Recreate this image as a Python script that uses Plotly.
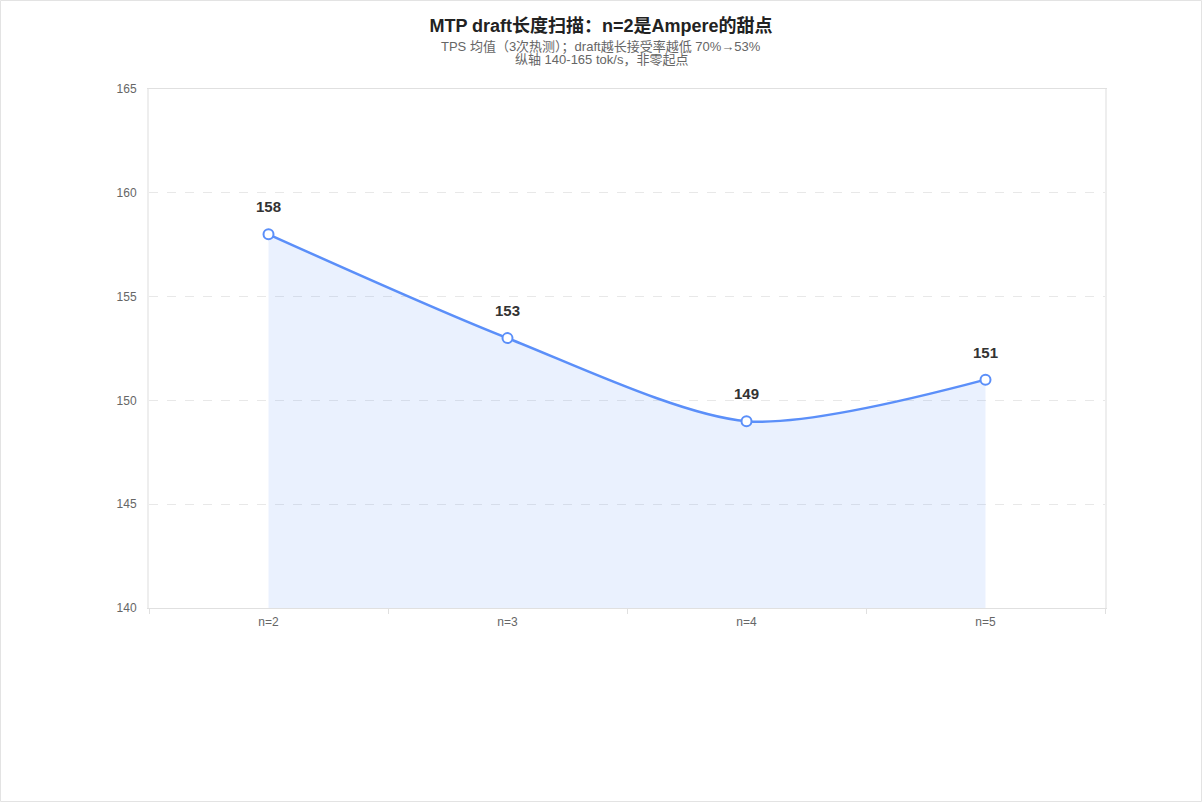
import plotly.graph_objects as go

categories = ["n=2", "n=3", "n=4", "n=5"]
tps = [158, 153, 149, 151]
y_ticks = [140, 145, 150, 155, 160, 165]

W, H = 1202, 802
ml, mr, mt, mb = 149, 97, 89, 194
pw, ph = W - ml - mr, H - mt - mb
cx = (W / 2 - ml) / pw  # figure centre in paper coords

font = "Liberation Sans, Arial, Noto Sans CJK SC, sans-serif"

fig = go.Figure()
fig.add_trace(go.Scatter(
    x=categories, y=tps, mode="lines+markers",
    line=dict(color="#5B8FF9", width=2.5, shape="spline", smoothing=0.8),
    marker=dict(size=10, color="white", line=dict(color="#5B8FF9", width=2)),
    fill="tozeroy", fillcolor="rgba(91,143,249,0.13)",
    hoverinfo="x+y", showlegend=False,
))

# value labels above each point
labels = [dict(x=c, y=v, text="<b>%d</b>" % v, showarrow=False,
               yanchor="bottom", yshift=17,
               font=dict(size=15, color="#333333"))
          for c, v in zip(categories, tps)]

subtitle = [
    dict(text="TPS 均值（3次热测）；draft越长接受率越低 70%→53%",
         xref="paper", yref="paper", x=cx, y=1 + (mt - 47) / ph,
         xanchor="center", yanchor="middle", showarrow=False,
         font=dict(size=13, color="#666666")),
    dict(text="纵轴 140-165 tok/s，非零起点",
         xref="paper", yref="paper", x=cx, y=1 + (mt - 60) / ph,
         xanchor="center", yanchor="middle", showarrow=False,
         font=dict(size=13, color="#666666")),
]

fig.update_layout(
    width=W, height=H,
    margin=dict(l=ml, r=mr, t=mt, b=mb),
    paper_bgcolor="white", plot_bgcolor="white",
    font=dict(family=font),
    title=dict(text="<b>MTP draft长度扫描：n=2是Ampere的甜点</b>",
               x=0.5, xanchor="center", y=1 - 26 / H, yanchor="middle",
               font=dict(size=18, color="#222222")),
    annotations=labels + subtitle,
    shapes=[dict(type="rect", xref="paper", yref="paper",
                 x0=-ml / pw + 0.5 / pw, x1=1 + (mr - 0.5) / pw,
                 y0=-(mb - 0.5) / ph, y1=1 + (mt - 0.5) / ph,
                 line=dict(color="#e3e3e3", width=1), layer="below")],
)

fig.update_xaxes(
    type="category", range=[-0.5, len(categories) - 0.5],
    tickson="boundaries", ticks="outside", ticklen=5,
    tickcolor="#e0e0e0", showgrid=False,
    showline=True, linecolor="#e0e0e0", linewidth=1, mirror=True,
    tickfont=dict(size=12, color="#666666"), ticklabelstandoff=3,
)
fig.update_yaxes(
    range=[140, 165], tickvals=y_ticks, ticks="", showgrid=True,
    gridcolor="#e8e8e8", griddash="dash", gridwidth=1,
    showline=True, linecolor="#eeeeee", linewidth=2, mirror=True,
    zeroline=False, tickfont=dict(size=12, color="#666666"), ticklabelstandoff=8,
)

fig.write_html("out.html", config={"displayModeBar": False},
               post_script="document.body.style.margin='0';")
